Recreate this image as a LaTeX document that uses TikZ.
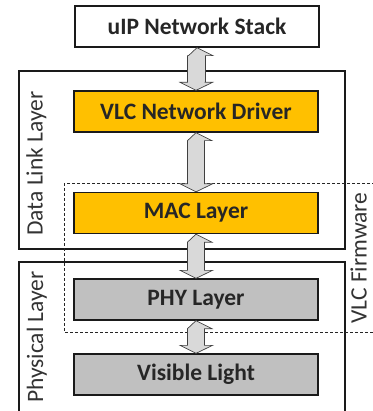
\documentclass[tikz,border=0pt]{standalone}
\usepackage{fontspec}
\setmainfont{Carlito}
\usetikzlibrary{calc}
\definecolor{orng}{HTML}{FFC000}
\definecolor{gry}{HTML}{C0C0C0}
\definecolor{arrgry}{HTML}{D9D9D9}
\definecolor{edge}{HTML}{1A1A1A}
\tikzset{
  layerbox/.style={draw=edge, line width=1.3pt, minimum width=244pt, minimum height=41pt, inner sep=0pt, font=\fontsize{23.5}{23.5}\selectfont\bfseries, text=black!85},
  groupbox/.style={draw=edge, line width=1.1pt},
  sidelabel/.style={rotate=90, anchor=base, font=\fontsize{23.5}{23.5}\selectfont, text=black!80, inner sep=0pt},
  dblarrow/.style={fill=arrgry, draw=black!75, line width=0.7pt, line join=miter}
}
\newcommand{\udarrow}[2]{% from node #1 south to node #2 north
  \path (#1.south) coordinate (aT) (#2.north) coordinate (aB);
  \draw[dblarrow] (aT) -- ++(16,8) -- ++(-7.5,0) |- ($(aB)+(8.5,-8)$) -- ++(8,0) -- (aB) -- ++(-16,-8) -- ++(7.5,0) |- ($(aT)+(-8.5,8)$) -- cycle;
}
\begin{document}
\begin{tikzpicture}[x=1pt,y=-1pt]
\useasboundingbox (0,0) rectangle (372,411);
% group boxes
\draw[groupbox] (19,71) rectangle (345,249);
\draw[groupbox] (19,262) rectangle (345,414);
\draw[black!85, line width=1pt, dash pattern=on 3pt off 2pt] (375,184) -- (64,184) -- (64,332) -- (375,332);
% layers
\node[layerbox, fill=white] (uip) at (197,26.5) {uIP Network Stack};
\node[layerbox, fill=orng] (drv) at (196,111.5) {VLC Network Driver};
\node[layerbox, fill=orng] (mac) at (196,213) {MAC Layer};
\node[layerbox, fill=gry] (phy) at (196,299.5) {PHY Layer};
\node[layerbox, fill=gry] (vis) at (196,374.5) {Visible Light};
% arrows
\udarrow{uip}{drv}
\udarrow{drv}{mac}
\udarrow{mac}{phy}
\udarrow{phy}{vis}
% side labels
\node[sidelabel] (dll) at (42.5,163.5) {Data Link Layer};
\node[sidelabel] (pl) at (43,337) {Physical Layer};
\node[sidelabel] (fw) at (366.5,258) {VLC Firmware};
\end{tikzpicture}
\end{document}
